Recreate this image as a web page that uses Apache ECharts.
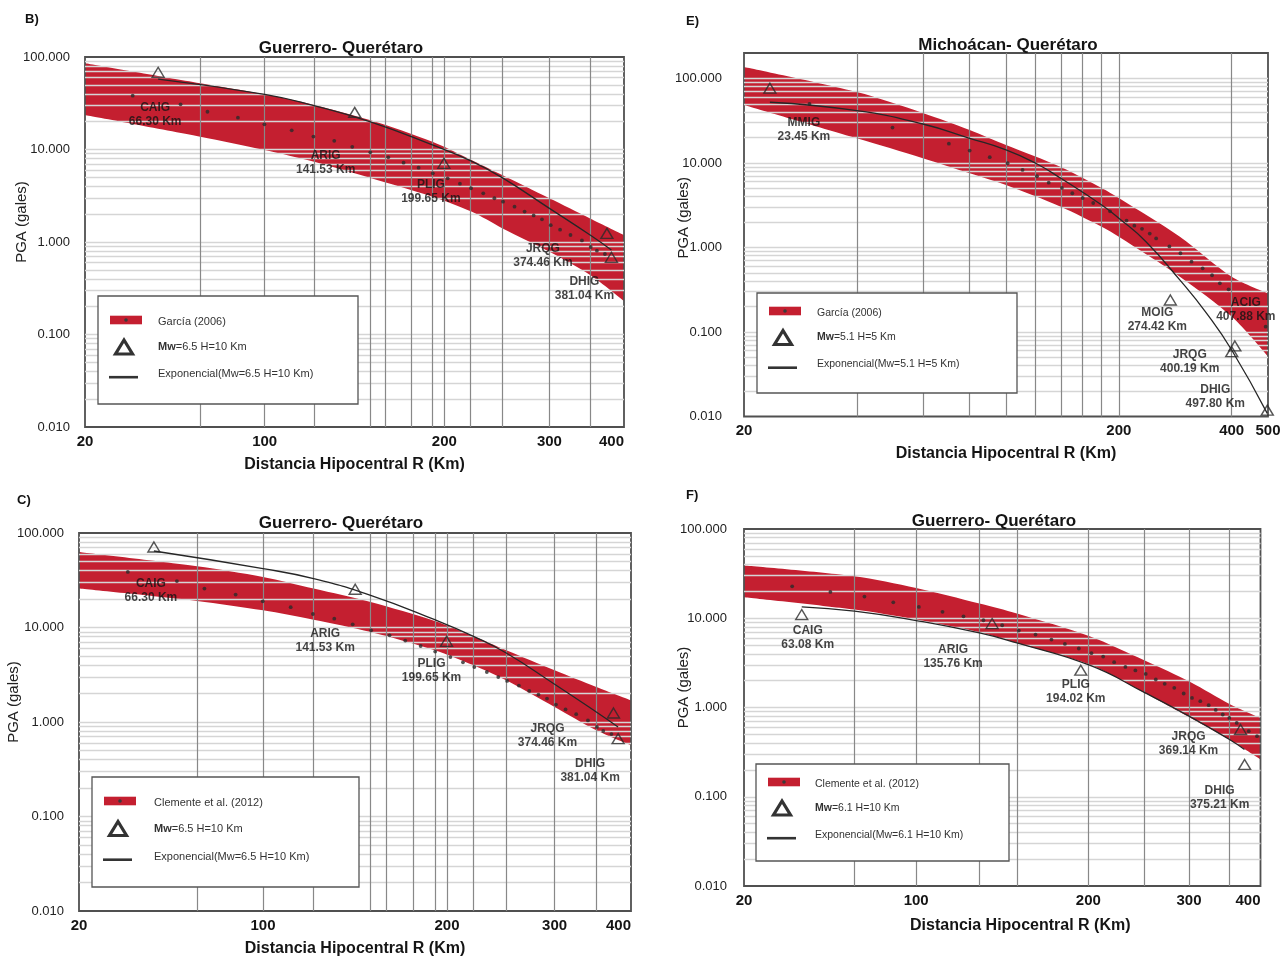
<!DOCTYPE html>
<html><head><meta charset="utf-8">
<script src="https://cdn.jsdelivr.net/npm/echarts@6/dist/echarts.min.js"></script>
<style>html,body{margin:0;padding:0;background:#fff}#c{width:1284px;height:960px}</style>
</head><body><div id="c"></div>
<script>
// ================= DATA =================
const yTickValues = [0.01, 0.1, 1, 10, 100];
// B, C, F share this distance axis (left end is labelled "20")
const xTicksGQ = [50, 100, 200, 300, 400];
const xTickLabelsGQ = ['20', '100', '200', '300', '400'];
const xTicksMQ = [20, 200, 400, 500];
const xTickLabelsMQ = ['20', '200', '400', '500'];
const xGridBC = [78, 100, 121, 150, 159, 176, 191, 200, 221, 250, 300, 351];
const xGridF = [78, 100, 129, 150, 200, 250, 300, 353];
const xGridE = [40, 60, 80, 100, 120, 140, 160, 180, 200, 400];

// ---- Panel B ----
const bandB_km = [50, 78, 100, 121, 150, 191, 222, 250, 300, 351, 400];
const bandB_upper = [85.5, 52.0, 39.5, 30.3, 20.8, 12.1, 7.7, 5.3, 2.97, 1.80, 1.19];
const bandB_lower = [23.6, 13.75, 9.88, 7.38, 4.95, 3.09, 2.13, 1.41, 0.785, 0.44, 0.23];
const dotsB_km = [60.1, 72.3, 80.2, 90.2, 99.9, 111, 120.7, 130.8, 140.2, 150.3, 161.1, 170.9, 181.1, 191.3, 202.6, 212.4, 221.7, 232.4, 242.6, 250.8, 262.2, 272.6, 282.3, 291.5, 301.5, 312.6, 325.4, 340.1, 351.8, 360.3, 371.6];
const dotsB_pga = [38.2, 30.8, 25.6, 22.1, 18.7, 16.1, 13.8, 12.4, 10.7, 9.33, 8.24, 7.2, 6.36, 5.53, 4.88, 4.27, 3.81, 3.36, 2.97, 2.73, 2.41, 2.13, 1.94, 1.76, 1.52, 1.36, 1.19, 1.04, 0.883, 0.805, 0.742];
const stationsB = ['CAIG', 'ARIG', 'PLIG', 'JRQG', 'DHIG'];
const stationsB_km = [66.30, 141.53, 199.65, 374.46, 381.04];
const stationsB_pga = [68.3, 25.2, 7.09, 1.24, 0.683];
const fitB_km = [66.3, 100, 121, 150, 191, 222, 250, 300, 351, 381];
const fitB_pga = [57.8, 39.5, 29.8, 20.0, 11.2, 7.5, 4.96, 2.31, 1.19, 0.82];
const legendB = ['García (2006)', 'Mw', '=6.5 H=10 Km', 'Exponencial(Mw=6.5 H=10 Km)'];

// ---- Panel E ----
const bandE_km = [20, 40, 60, 80, 100, 140, 180, 200, 291, 400, 500];
const bandE_upper = [136.8, 69.2, 39.1, 24.6, 16.3, 8.97, 5.06, 3.85, 1.34, 0.451, 0.287];
const bandE_lower = [48.6, 19.6, 11.4, 7.55, 5.49, 3.04, 1.76, 1.34, 0.451, 0.152, 0.051];
const dotsE_km = [29.9, 49.8, 70.4, 80, 90.5, 101, 110.7, 121, 130, 141, 150.3, 160.2, 170.9, 189.5, 209.7, 220, 230.6, 241.8, 251.5, 272.8, 292, 312.6, 334.7, 354.6, 372, 392.4, 492.8];
const dotsE_pga = [49.9, 26.2, 16.9, 14.0, 11.7, 9.92, 8.26, 6.96, 5.85, 5.06, 4.38, 3.85, 3.36, 2.68, 2.08, 1.81, 1.66, 1.46, 1.28, 1.03, 0.854, 0.679, 0.567, 0.469, 0.377, 0.320, 0.1155];
const stationsE = ['MMIG', 'MOIG', 'ACIG', 'JRQG', 'DHIG'];
const stationsE_km = [23.45, 274.42, 407.88, 400.19, 497.80];
const stationsE_pga = [76.6, 0.239, 0.0683, 0.0585, 0.0119];
const fitE_km = [23.45, 40, 60, 80, 100, 120, 140, 180, 200, 236.3, 290.8, 343, 400, 497.7];
const fitE_pga = [52.3, 41.6, 28.9, 19.6, 14.3, 9.92, 6.59, 3.18, 2.22, 1.17, 0.413, 0.166, 0.0612, 0.0109];
const legendE = ['García (2006)', 'Mw', '=5.1 H=5 Km', 'Exponencial(Mw=5.1 H=5 Km)'];

// ---- Panel C ----
const bandC_km = [50, 78, 100, 121, 150, 191, 221, 250, 300, 351, 400];
const bandC_upper = [62.9, 44.4, 34.2, 25.8, 18.6, 11.7, 8.07, 5.74, 3.53, 2.35, 1.70];
const bandC_lower = [25.8, 19.1, 15.2, 12.1, 8.96, 5.74, 3.98, 2.76, 1.44, 0.817, 0.567];
const dotsC_km = [60.1, 72.3, 80.2, 90.2, 99.9, 111, 120.7, 130.8, 140.2, 150.3, 161.1, 170.9, 181.1, 191.3, 202.6, 212.4, 221.7, 232.4, 242.6, 250.8, 262.2, 272.6, 282.3, 291.5, 301.5, 312.6, 325.4, 340.1, 351.8, 360.3, 371.6];
const dotsC_pga = [38.7, 31.0, 25.8, 22.3, 18.9, 16.4, 13.9, 12.4, 10.8, 9.34, 8.27, 7.27, 6.37, 5.56, 4.87, 4.28, 3.82, 3.38, 2.99, 2.72, 2.43, 2.13, 1.95, 1.77, 1.53, 1.36, 1.21, 1.04, 0.886, 0.803, 0.746];
const stationsC = ['CAIG', 'ARIG', 'PLIG', 'JRQG', 'DHIG'];
const stationsC_km = [66.30, 141.53, 199.65, 374.46, 381.04];
const stationsC_pga = [71.1, 25.4, 7.14, 1.245, 0.667];
const fitC_km = [66.3, 100, 121, 150, 191, 221, 250, 300, 351, 381];
const fitC_pga = [64.5, 42.0, 32.9, 21.9, 12.1, 8.07, 5.37, 2.51, 1.276, 0.886];
const legendC = ['Clemente et al. (2012)', 'Mw', '=6.5 H=10 Km', 'Exponencial(Mw=6.5 H=10 Km)'];

// ---- Panel F ----
const bandF_km = [50, 78, 100, 129, 150, 201, 251, 302, 353, 400];
const bandF_upper = [38.9, 29.5, 21.8, 14.6, 11.3, 6.29, 3.36, 1.92, 1.097, 0.765];
const bandF_lower = [17.2, 12.5, 9.67, 6.97, 5.29, 3.03, 1.457, 0.765, 0.438, 0.262];
const dotsF_km = [60.7, 70.8, 81.2, 91.2, 101.1, 111.2, 121, 131.1, 141.4, 151.2, 161.7, 172.4, 182, 192.5, 202.5, 212.3, 221.9, 232.2, 241.7, 252, 262.4, 272, 282.7, 293.6, 303.6, 313.9, 324.7, 334, 343.6, 352.8, 363.5, 381.5, 394.4];
const dotsF_pga = [22.8, 19.7, 17.5, 15.1, 13.4, 11.8, 10.5, 9.50, 8.35, 7.28, 6.57, 5.77, 5.15, 4.58, 4.06, 3.72, 3.22, 2.85, 2.60, 2.38, 2.06, 1.84, 1.66, 1.435, 1.28, 1.176, 1.061, 0.940, 0.835, 0.765, 0.672, 0.543, 0.477];
const stationsF = ['CAIG', 'ARIG', 'PLIG', 'JRQG', 'DHIG'];
const stationsF_km = [63.08, 135.76, 194.02, 369.14, 375.21];
const stationsF_pga = [11.0, 8.72, 2.62, 0.567, 0.230];
const fitF_km = [63.08, 78, 100, 129, 150, 201, 251.5, 301.6, 353, 375];
const fitF_pga = [13.4, 12.0, 9.42, 6.84, 5.29, 2.98, 1.457, 0.785, 0.438, 0.339];
const legendF = ['Clemente et al. (2012)', 'Mw', '=6.1 H=10 Km', 'Exponencial(Mw=6.1 H=10 Km)'];

const titleGQ = 'Guerrero- Querétaro';
const titleMQ = 'Michoácan- Querétaro';
const xName = 'Distancia Hipocentral R (Km)';
const yName = 'PGA (gales)';

// ================= LAYOUT / STYLE =================
const FONT = 'Liberation Sans, Arial, Helvetica, sans-serif';
const RED = '#c41f30';
const panels = [
  { letter: 'B)', letterPos: [25, 19], title: titleGQ, titlePos: [336, 35],
    grid: [85, 57, 539, 370], xMin: 50, xMax: 400, yMax: 100,
    xTicks: xTicksGQ, xLabels: xTickLabelsGQ, xGrid: xGridBC,
    band: [bandB_km, bandB_upper, bandB_lower], dots: [dotsB_km, dotsB_pga], fit: [fitB_km, fitB_pga],
    st: [stationsB, stationsB_km, stationsB_pga],
    offsets: [[-3, 42], [-29, 50], [-13, 28], [-64, 22], [-27, 31]],
    yMargin: 15, yNameGap: 56, yNamePad: 40, xNameGap: 30, xNamePad: 0,
    legend: { box: [98, 296, 260, 108], iconX: 110, textX: 158, rows: [322, 347, 374], fs: 11, names: legendB } },
  { letter: 'E)', letterPos: [686, 21], title: titleMQ, titlePos: [1003, 32],
    grid: [744, 53, 524, 363.5], xMin: 20, xMax: 500, yMax: 200,
    xTicks: xTicksMQ, xLabels: xTickLabelsMQ, xGrid: xGridE,
    band: [bandE_km, bandE_upper, bandE_lower], dots: [dotsE_km, dotsE_pga], fit: [fitE_km, fitE_pga],
    st: [stationsE, stationsE_km, stationsE_pga],
    offsets: [[34, 41], [-13, 20], [11, -36], [-42, 10], [-52, -13]],
    yMargin: 22, yNameGap: 53, yNamePad: 34, xNameGap: 29, xNamePad: 0,
    legend: { box: [757, 293, 260, 100], iconX: 769, textX: 817, rows: [313, 337.5, 364.5], fs: 10.5, names: legendE } },
  { letter: 'C)', letterPos: [17, 500], title: titleGQ, titlePos: [336, 510],
    grid: [79, 533, 552, 378], xMin: 50, xMax: 400, yMax: 100,
    xTicks: xTicksGQ, xLabels: xTickLabelsGQ, xGrid: xGridBC,
    band: [bandC_km, bandC_upper, bandC_lower], dots: [dotsC_km, dotsC_pga], fit: [fitC_km, fitC_pga],
    st: [stationsC, stationsC_km, stationsC_pga],
    offsets: [[-3, 44], [-30, 51], [-15, 29], [-66, 23], [-28, 32]],
    yMargin: 15, yNameGap: 58, yNamePad: 40, xNameGap: 30, xNamePad: 0,
    legend: { box: [92, 777, 267, 110], iconX: 104, textX: 154, rows: [803, 828.5, 856.5], fs: 11, names: legendC } },
  { letter: 'F)', letterPos: [686, 495], title: titleGQ, titlePos: [989, 508],
    grid: [744, 529, 516.5, 357], xMin: 50, xMax: 400, yMax: 100,
    xTicks: xTicksGQ, xLabels: xTickLabelsGQ, xGrid: xGridF,
    band: [bandF_km, bandF_upper, bandF_lower], dots: [dotsF_km, dotsF_pga], fit: [fitF_km, fitF_pga],
    st: [stationsF, stationsF_km, stationsF_pga],
    offsets: [[6, 23], [-39, 33], [-5, 22], [-52, 14], [-25, 33]],
    yMargin: 17, yNameGap: 53, yNamePad: 40, xNameGap: 32, xNamePad: 36,
    legend: { box: [756, 764, 253, 97], iconX: 768, textX: 815, rows: [784, 808, 835], fs: 10.5, names: legendF } }
];

function yGridValues(max) {
  const out = [];
  for (let e = -2; e <= 2; e++) for (let k = 1; k <= 9; k++) {
    const v = +(k * Math.pow(10, e)).toPrecision(6);
    if (v > 0.01 && v < max) out.push(v);
  }
  return out;
}
function labelFor(ticks, labels, v) {
  for (let i = 0; i < ticks.length; i++) if (Math.abs(ticks[i] - v) / ticks[i] < 0.01) return labels[i];
  return '';
}

const grids = [], xAxes = [], yAxes = [], series = [], titles = [], graphics = [];
panels.forEach((p, i) => {
  grids.push({ left: p.grid[0], top: p.grid[1], width: p.grid[2], height: p.grid[3], show: true,
    borderColor: '#505050', borderWidth: 1.8, backgroundColor: 'transparent' });
  xAxes.push({ type: 'log', logBase: 10, gridIndex: i, min: p.xMin, max: p.xMax,
    axisLine: { show: false }, axisTick: { show: false, customValues: p.xGrid },
    splitLine: { show: true, lineStyle: { color: '#888888', width: 1.2 } },
    axisLabel: { customValues: p.xTicks, formatter: v => labelFor(p.xTicks, p.xLabels, v),
      fontSize: 15, fontWeight: 'bold', color: '#151515', fontFamily: FONT, margin: 7,
      alignMaxLabel: p.xMax === 400 ? 'right' : 'center' },
    name: xName, nameLocation: 'middle', nameGap: p.xNameGap, nameMoveOverlap: false,
    nameTextStyle: { fontSize: 16, fontWeight: 'bold', color: '#151515', fontFamily: FONT, padding: [0, 0, 0, p.xNamePad] } });
  yAxes.push({ type: 'log', logBase: 10, gridIndex: i, min: 0.01, max: p.yMax,
    axisLine: { show: false }, axisTick: { show: false, customValues: yGridValues(p.yMax) },
    splitLine: { show: true, lineStyle: { color: '#d5d5d5', width: 1.4 } },
    axisLabel: { customValues: yTickValues, formatter: v => v.toFixed(3), fontSize: 13, color: '#222', fontFamily: FONT, margin: p.yMargin },
    name: yName, nameLocation: 'middle', nameGap: p.yNameGap, nameMoveOverlap: false,
    nameTextStyle: { fontSize: 15, color: '#222', fontFamily: FONT, padding: [0, 0, 0, p.yNamePad] } });

  const [bk, bu, bl] = p.band;
  // band: red area down from the upper limit, masked by white area down from the lower limit (grid lines stay on top)
  series.push({ type: 'line', xAxisIndex: i, yAxisIndex: i, symbol: 'none', smooth: 0.3,
    data: bk.map((k, j) => [k, bu[j]]), lineStyle: { opacity: 0 },
    areaStyle: { color: RED, opacity: 1, origin: 'start' }, z: -2, silent: true });
  series.push({ type: 'line', xAxisIndex: i, yAxisIndex: i, symbol: 'none', smooth: 0.3,
    data: bk.map((k, j) => [k, bl[j]]), lineStyle: { opacity: 0 },
    areaStyle: { color: '#ffffff', opacity: 1, origin: 'start' }, z: -1, silent: true });
  series.push({ type: 'scatter', xAxisIndex: i, yAxisIndex: i, symbol: 'circle', symbolSize: 3.8,
    data: p.dots[0].map((k, j) => [k, p.dots[1][j]]), itemStyle: { color: '#2b2b2b' }, z: 3, silent: true });
  series.push({ type: 'line', xAxisIndex: i, yAxisIndex: i, symbol: 'none', smooth: true,
    data: p.fit[0].map((k, j) => [k, p.fit[1][j]]), lineStyle: { color: '#262626', width: 1.3 }, z: 4, silent: true });
  series.push({ type: 'scatter', xAxisIndex: i, yAxisIndex: i, symbol: 'triangle', symbolSize: [12, 10],
    itemStyle: { color: 'rgba(255,255,255,0)', borderColor: '#2a2a2a', borderWidth: 1.4 }, z: 5, silent: true,
    data: p.st[0].map((n, j) => ({ name: n, value: [p.st[1][j], p.st[2][j]], label: { offset: p.offsets[j] } })),
    label: { show: true, position: 'inside', formatter: q => q.name + '\n' + q.value[0].toFixed(2) + ' Km',
      fontSize: 12, fontWeight: 'bold', color: '#141414', lineHeight: 14, fontFamily: FONT } });

  titles.push({ text: p.title, left: p.titlePos[0], top: p.titlePos[1], textAlign: 'center',
    textStyle: { fontSize: 17, fontWeight: 'bold', color: '#141414', fontFamily: FONT } });
  graphics.push({ type: 'text', style: { text: p.letter, x: p.letterPos[0], y: p.letterPos[1], verticalAlign: 'middle',
    font: 'bold 13px ' + FONT, fill: '#111' }, z: 60 });

  const L = p.legend; const [bx, by, bw, bh] = L.box;
  graphics.push({ type: 'rect', shape: { x: bx, y: by, width: bw, height: bh }, style: { fill: '#fff', stroke: '#555', lineWidth: 1.3 }, z: 50 });
  const ry = L.rows[0] - 2;
  graphics.push({ type: 'rect', shape: { x: L.iconX, y: ry - 4.3, width: 32, height: 8.6 }, style: { fill: RED }, z: 51 });
  graphics.push({ type: 'circle', shape: { cx: L.iconX + 16, cy: ry, r: 1.8 }, style: { fill: '#3a3a3a' }, z: 52 });
  const tx = L.iconX + 14, ty = L.rows[1];
  graphics.push({ type: 'polygon', shape: { points: [[tx - 8.5, ty + 7], [tx + 8.5, ty + 7], [tx, ty - 7]] },
    style: { fill: '#fff', stroke: '#333', lineWidth: 3.2, lineJoin: 'miter' }, z: 51 });
  graphics.push({ type: 'line', shape: { x1: L.iconX - 1, y1: L.rows[2] + 3.2, x2: L.iconX + 28, y2: L.rows[2] + 3.2 },
    style: { stroke: '#333', lineWidth: 2.6 }, z: 51 });
  const tfont = L.fs + 'px ' + FONT;
  graphics.push({ type: 'text', style: { text: L.names[0], x: L.textX, y: L.rows[0], verticalAlign: 'middle', font: tfont, fill: '#333' }, z: 52 });
  graphics.push({ type: 'text', style: { text: '{b|' + L.names[1] + '}{n|' + L.names[2] + '}', x: L.textX, y: L.rows[1], verticalAlign: 'middle',
    rich: { b: { fontWeight: 'bold', fontSize: L.fs, fontFamily: FONT, fill: '#333' }, n: { fontSize: L.fs, fontFamily: FONT, fill: '#333' } } }, z: 52 });
  graphics.push({ type: 'text', style: { text: L.names[3], x: L.textX, y: L.rows[2], verticalAlign: 'middle', font: tfont, fill: '#333' }, z: 52 });
});

const chart = echarts.init(document.getElementById('c'), null, { renderer: 'canvas', width: 1284, height: 960 });
chart.setOption({
  backgroundColor: '#ffffff',
  animation: false,
  textStyle: { fontFamily: FONT },
  title: titles,
  grid: grids,
  xAxis: xAxes,
  yAxis: yAxes,
  series: series,
  graphic: graphics
});
</script>
</body></html>
